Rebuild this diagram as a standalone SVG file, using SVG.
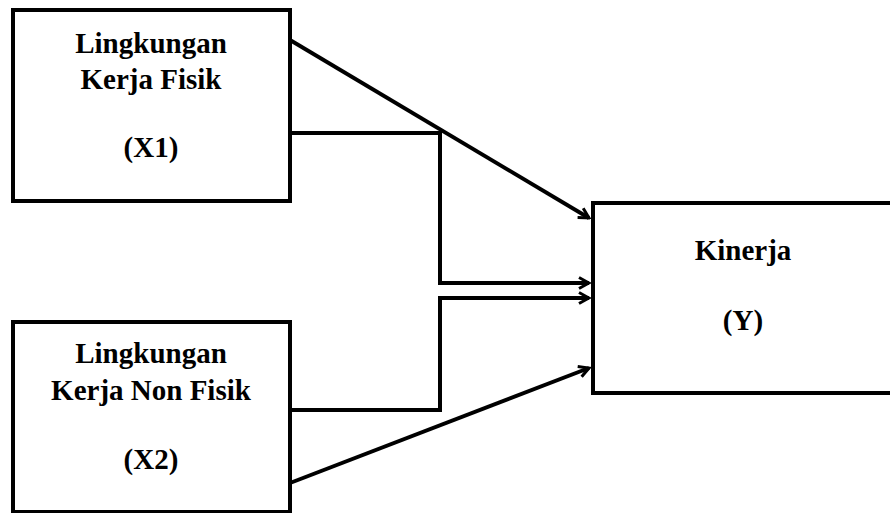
<svg xmlns="http://www.w3.org/2000/svg" width="890" height="513" viewBox="0 0 890 513">
<style>
.box{fill:#fff;stroke:#000;stroke-width:4}
.lbl{font-family:"Liberation Serif","Times New Roman",serif;font-weight:bold;font-size:29px;fill:#000;text-anchor:middle}
.conn{fill:none;stroke:#000;stroke-width:4}
</style>
<defs>
<marker id="arr" viewBox="0 0 14 14" refX="12" refY="7" markerWidth="14" markerHeight="14" markerUnits="userSpaceOnUse" orient="auto">
<path d="M2,1.5 L12,7 L2,12.5" fill="none" stroke="#000" stroke-width="3"/>
</marker>
</defs>
<rect width="890" height="513" fill="#fff"/>
<g id="x1">
<rect class="box" x="13" y="10" width="277" height="191"/>
<text class="lbl" x="151" y="53">Lingkungan</text>
<text class="lbl" x="151" y="89">Kerja Fisik</text>
<text class="lbl" x="151" y="157">(X1)</text>
</g>
<g id="x2">
<rect class="box" x="13" y="322" width="277" height="190"/>
<text class="lbl" x="151" y="363">Lingkungan</text>
<text class="lbl" x="151" y="400">Kerja Non Fisik</text>
<text class="lbl" x="151" y="469">(X2)</text>
</g>
<g id="y">
<rect class="box" x="593" y="203" width="310" height="190"/>
<text class="lbl" x="743" y="260">Kinerja</text>
<text class="lbl" x="743" y="330">(Y)</text>
</g>
<g id="connectors">
<path class="conn" d="M290,40 L589,218" marker-end="url(#arr)"/>
<path class="conn" d="M290,133 L440,133 L440,283 L589,283" marker-end="url(#arr)"/>
<path class="conn" d="M290,410 L440,410 L440,298 L589,298" marker-end="url(#arr)"/>
<path class="conn" d="M290,483 L589,368" marker-end="url(#arr)"/>
</g>
</svg>
